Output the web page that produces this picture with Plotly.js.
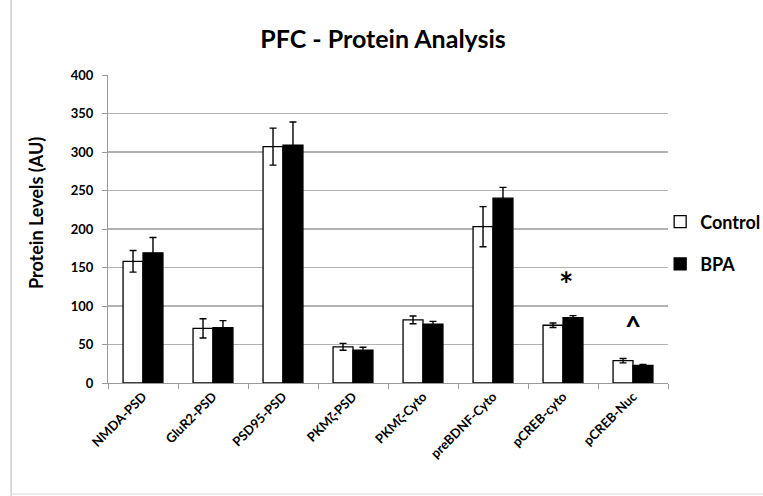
<!DOCTYPE html>
<html><head><meta charset="utf-8">
<script src="https://cdn.plot.ly/plotly-3.0.1.min.js"></script>
<style>body{margin:0;background:#fff}#chart{width:763px;height:496px}</style>
</head><body><div id="chart"></div>
<script>
const categories = ["NMDA-PSD","GluR2-PSD","PSD95-PSD","PKMζ-PSD","PKMζ-Cyto","preBDNF-Cyto","pCREB-cyto","pCREB-Nuc"];
const controlValues = [158, 71, 307, 47, 82, 203, 75, 29];
const controlErrors = [14, 12.5, 24, 4.5, 5, 26, 3, 2.8];
const bpaValues = [169, 72, 309, 42.5, 76.5, 240, 85, 23];
const bpaErrors = [20, 9, 30, 4, 3.5, 14, 2.5, 1];
const yTicks = [0, 50, 100, 150, 200, 250, 300, 350, 400];
const markers = [{cat:"pCREB-cyto", y:129, text:"*"}, {cat:"pCREB-Nuc", y:74, text:"^"}];

const FONT = "Lato, 'Open Sans', sans-serif";
const traces = [
  {type:"bar", name:"Control", legendgroup:"c", x:categories, y:controlValues,
   marker:{color:"#ffffff", line:{color:"#000000", width:1.3}},
   error_y:{type:"data", array:controlErrors, visible:true, color:"#000", thickness:1.4, width:3.5}},
  {type:"bar", name:"BPA", legendgroup:"b", x:categories, y:bpaValues,
   marker:{color:"#000000", line:{color:"#000000", width:1.3}},
   error_y:{type:"data", array:bpaErrors, visible:true, color:"#000", thickness:1.4, width:3.5}}
];
const layout = {
  width:763, height:496,
  margin:{l:108, r:95, t:75, b:113, autoexpand:false},
  paper_bgcolor:"#fff", plot_bgcolor:"#fff",
  font:{family:FONT, color:"#000"},
  title:{text:"<b>PFC - Protein Analysis</b>", x:0.502, xanchor:"center", y:0.92, yanchor:"middle",
         font:{size:25, family:FONT, color:"#000"}},
  barmode:"group", bargap:0.43, bargroupgap:0,
  xaxis:{type:"category", showgrid:false, showline:true, linecolor:"#999", linewidth:1, automargin:false,
         ticks:"outside", ticklen:5, tickcolor:"#999", tickson:"boundaries",
         tickangle:-45, tickfont:{size:13, family:FONT, color:"#000", weight:"bold"}},
  yaxis:{range:[0,400], tickvals:yTicks, showgrid:true, gridcolor:"#b3b3b3", gridwidth:1.3, automargin:false,
         showline:true, linecolor:"#999", ticks:"outside", ticklen:5, tickcolor:"#999", ticklabelstandoff:6,
         tickfont:{size:13, family:FONT, color:"#000", weight:"bold"}, zeroline:false},
  legend:{x:0.986, xanchor:"left", y:0.455, yanchor:"middle", traceorder:"grouped",
          font:{size:18, family:FONT, color:"#000", weight:"bold"},
          itemwidth:30, tracegroupgap:16, bgcolor:"rgba(0,0,0,0)"},
  annotations: markers.map(m => ({x:m.cat, y:m.y, xref:"x", yref:"y", text:"<b>"+m.text+"</b>", showarrow:false,
     font:{size:m.text==="*"?34:28, family:FONT, color:"#000"}, xshift: m.text==="*"?3:0})).concat([
     {xref:"paper", yref:"paper", x:(36-108)/560, y:(383-213)/308, text:"<b>Protein Levels (AU)</b>", textangle:-90,
      showarrow:false, xanchor:"center", yanchor:"middle", font:{size:18, family:FONT, color:"#000"}}
  ]),
  shapes:[
    {type:"line", xref:"paper", yref:"paper", x0:-0.173, x1:-0.173, y0:-0.38, y1:1.3, line:{color:"#cfcfcf", width:1.5}},
    {type:"line", xref:"paper", yref:"paper", x0:-0.173, x1:1.2, y0:-0.36, y1:-0.36, line:{color:"#e6e6e6", width:1.5}}
  ]
};
Plotly.newPlot("chart", traces, layout, {displayModeBar:false, staticPlot:true});
</script></body></html>
